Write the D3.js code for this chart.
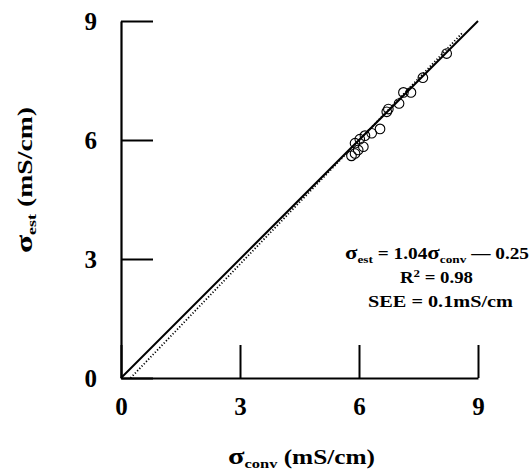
<!DOCTYPE html>
<html>
<head>
<meta charset="utf-8">
<script src="https://cdn.jsdelivr.net/npm/d3@7"></script>
<style>
  body { margin: 0; background: #fff; }
  text { font-family: "Liberation Serif", "Times New Roman", serif; font-weight: bold; }
</style>
</head>
<body>
<div id="chart"></div>
<script>
// measured points, sigma_conv vs sigma_est (mS/cm)
const sigmaConv = [5.81, 5.90, 5.98, 6.11, 5.90, 6.02, 6.15, 6.32, 6.53, 6.70, 6.74, 7.01, 7.12, 7.31, 7.61, 8.21];
const sigmaEst  = [5.60, 5.66, 5.75, 5.83, 5.92, 6.02, 6.11, 6.17, 6.28, 6.71, 6.78, 6.92, 7.20, 7.20, 7.57, 8.18];
const ticks = [0, 3, 6, 9];
const identityLine = [[0, 0], [9, 9]];
const fitSlope = 1.04;
const fitIntercept = -0.25;
const fitEnd = 8.6;

function drawChart() {
  const width = 529;
  const height = 470;
  const margin = { top: 21, right: 51, bottom: 92, left: 121 };

  const svg = d3.select("#chart")
    .append("svg")
    .attr("width", width)
    .attr("height", height);

  const x = d3.scaleLinear()
    .domain([0, 9])
    .range([margin.left, width - margin.right]);

  const y = d3.scaleLinear()
    .domain([0, 9])
    .range([height - margin.bottom, margin.top]);

  // y axis
  const yAxis = svg.append("g")
    .attr("transform", `translate(${x(0)},0)`)
    .call(d3.axisLeft(y).tickValues(ticks).tickSize(-32).tickSizeOuter(0).tickPadding(24));

  // x axis
  const xAxis = svg.append("g")
    .attr("transform", `translate(0,${y(0)})`)
    .call(d3.axisBottom(x).tickValues(ticks).tickSize(-33).tickSizeOuter(0).tickPadding(19));

  [xAxis, yAxis].forEach(g => {
    g.select(".domain").attr("stroke-width", 2.2);
    g.selectAll(".tick line").attr("stroke-width", 2);
    g.selectAll(".tick text").attr("fill", "#000").style("font-size", "25px");
  });

  const line = d3.line()
    .x(d => x(d[0]))
    .y(d => y(d[1]));

  // identity line
  svg.append("path")
    .datum(identityLine)
    .attr("fill", "none")
    .attr("stroke", "#000")
    .attr("stroke-width", 2)
    .attr("d", line);

  // regression line (dotted)
  const x0 = -fitIntercept / fitSlope;
  const fitLine = [[x0, 0], [fitEnd, fitSlope * fitEnd + fitIntercept]];
  svg.append("path")
    .datum(fitLine)
    .attr("fill", "none")
    .attr("stroke", "#000")
    .attr("stroke-width", 1.8)
    .attr("stroke-dasharray", "1.2,2")
    .attr("d", line);

  // points
  svg.append("g")
    .selectAll("circle")
    .data(sigmaConv.map((v, i) => [v, sigmaEst[i]]))
    .join("circle")
    .attr("cx", d => x(d[0]))
    .attr("cy", d => y(d[1]))
    .attr("r", 4.8)
    .attr("fill", "none")
    .attr("stroke", "#000")
    .attr("stroke-width", 1.1);

  // axis titles
  const xTitle = svg.append("text")
    .attr("x", 228)
    .attr("y", 464)
    .attr("textLength", 147)
    .attr("lengthAdjust", "spacingAndGlyphs")
    .style("font-size", "20px");
  xTitle.append("tspan").style("font-size", "24px").text("σ");
  xTitle.append("tspan").attr("dy", 4).style("font-size", "13px").text("conv");
  xTitle.append("tspan").attr("dy", -4).text(" (mS/cm)");

  const yTitle = svg.append("text")
    .attr("transform", "translate(32,253) rotate(-90)")
    .attr("textLength", 146)
    .attr("lengthAdjust", "spacingAndGlyphs")
    .style("font-size", "20px");
  yTitle.append("tspan").style("font-size", "24px").text("σ");
  yTitle.append("tspan").attr("dy", 4).style("font-size", "13px").text("est");
  yTitle.append("tspan").attr("dy", -4).text(" (mS/cm)");

  // equation block
  const eq = svg.append("text")
    .attr("x", 345)
    .attr("y", 259)
    .attr("textLength", 184)
    .attr("lengthAdjust", "spacingAndGlyphs")
    .style("font-size", "16px");
  eq.append("tspan").style("font-size", "19px").text("σ");
  eq.append("tspan").attr("dy", 4).style("font-size", "11px").text("est");
  eq.append("tspan").attr("dy", -4).text(" = 1.04");
  eq.append("tspan").style("font-size", "19px").text("σ");
  eq.append("tspan").attr("dy", 4).style("font-size", "11px").text("conv");
  eq.append("tspan").attr("dy", -4).text(" —   0.25");

  const r2 = svg.append("text")
    .attr("x", 400)
    .attr("y", 283)
    .attr("textLength", 73)
    .attr("lengthAdjust", "spacingAndGlyphs")
    .style("font-size", "16px");
  r2.append("tspan").text("R");
  r2.append("tspan").attr("dy", -6).style("font-size", "11px").text("2");
  r2.append("tspan").attr("dy", 6).text(" = 0.98");

  svg.append("text")
    .attr("x", 368)
    .attr("y", 307)
    .attr("textLength", 145)
    .attr("lengthAdjust", "spacingAndGlyphs")
    .style("font-size", "16px")
    .text("SEE = 0.1mS/cm");
}

window.onload = drawChart;
</script>
</body>
</html>
